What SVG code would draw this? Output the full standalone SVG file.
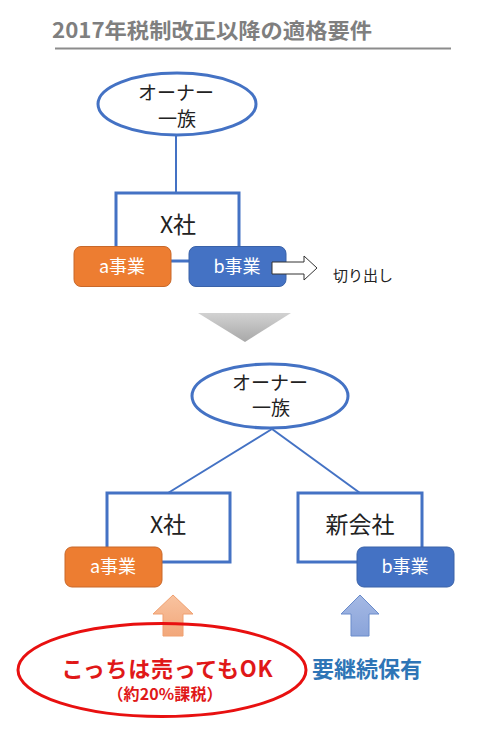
<svg xmlns="http://www.w3.org/2000/svg" width="482" height="731" viewBox="0 0 482 731">
<defs>
<linearGradient id="gtri" x1="0" y1="0" x2="0" y2="1"><stop offset="0" stop-color="#D2D2D2"/><stop offset="1" stop-color="#A8A8A8"/></linearGradient>
<linearGradient id="gor" x1="0" y1="0" x2="0" y2="1"><stop offset="0" stop-color="#F8C3A0"/><stop offset="1" stop-color="#F2A77A"/></linearGradient>
<linearGradient id="gbl" x1="0" y1="0" x2="0" y2="1"><stop offset="0" stop-color="#A5B9E4"/><stop offset="1" stop-color="#8AA4DA"/></linearGradient>
</defs>
<style>
.jp{font-family:"Noto Sans CJK JP","Noto Sans",sans-serif;}
.own{fill:#fff;stroke:#4472C4;stroke-width:3;}
.box{fill:#fff;stroke:#4472C4;stroke-width:3;}
.conn{stroke:#4472C4;stroke-width:2;fill:none;}
.t{font-family:"Noto Sans CJK JP","Noto Sans",sans-serif;fill:#222;text-anchor:middle;}
.bz{font-family:"Noto Sans CJK JP","Noto Sans",sans-serif;fill:#fff;text-anchor:middle;font-size:18px;}
.a{fill:#ED7D31;stroke:#C8682A;stroke-width:1;}
.b{fill:#4472C4;stroke:#3A62A8;stroke-width:1;}
</style>
<rect width="482" height="731" fill="#fff"/>
<g id="title">
<text x="52" y="38" class="jp" font-size="21" font-weight="bold" fill="#7F7F7F" textLength="320" lengthAdjust="spacingAndGlyphs">2017年税制改正以降の適格要件</text>
<line x1="55" y1="48.500" x2="451" y2="48.500" stroke="#8C8C8C" stroke-width="2"/>
</g>
<g id="connectors">
<line class="conn" x1="176" y1="135" x2="176" y2="193"/>
<line class="conn" x1="272" y1="429" x2="168" y2="493"/>
<line class="conn" x1="272" y1="429" x2="360" y2="493"/>
</g>
<g id="owner1">
<ellipse class="own" cx="177" cy="104" rx="79" ry="31"/>
<text class="t" x="176" y="100" font-size="19" textLength="76">オーナー</text>
<text class="t" x="177" y="126" font-size="19">一族</text>
</g>
<g id="xsha1">
<rect class="box" x="116" y="193" width="123" height="68"/>
<text class="t" x="178" y="233" font-size="23">X社</text>
</g>
<g id="a1">
<rect class="a" x="74" y="246.500" width="97" height="40" rx="7"/>
<text class="bz" x="122" y="273">a事業</text>
</g>
<g id="b1">
<rect class="b" x="189" y="246.500" width="97" height="40" rx="7"/>
<text class="bz" x="237" y="273">b事業</text>
</g>
<g id="cutout">
<path d="M272,262 H304 V256 L317,268 L304,280 V274 H272 Z" fill="#fff" stroke="#333" stroke-width="1"/>
<text class="t" x="363" y="281" font-size="15">切り出し</text>
</g>
<g id="down-triangle">
<path d="M198,313 H291 L245,342 Z" fill="url(#gtri)"/>
</g>
<g id="owner2">
<ellipse class="own" cx="270" cy="396" rx="78" ry="32"/>
<text class="t" x="270" y="390" font-size="19" textLength="76">オーナー</text>
<text class="t" x="271" y="415" font-size="19">一族</text>
</g>
<g id="xsha2">
<rect class="box" x="107" y="493" width="123" height="69"/>
<text class="t" x="168" y="533" font-size="23">X社</text>
</g>
<g id="shinkaisha">
<rect class="box" x="298" y="493" width="124" height="69"/>
<text class="t" x="360" y="533" font-size="23">新会社</text>
</g>
<g id="a2">
<rect class="a" x="65" y="547" width="97" height="40" rx="7"/>
<text class="bz" x="113" y="573">a事業</text>
</g>
<g id="b2">
<rect class="b" x="357" y="547" width="97" height="40" rx="7"/>
<text class="bz" x="405" y="573">b事業</text>
</g>
<g id="arrow-orange">
<path d="M173,595 L193,614 H183 V636 H163 V614 H153 Z" fill="url(#gor)" stroke="#F0A070" stroke-width="1"/>
</g>
<g id="arrow-blue">
<path d="M360,595 L379,614 H369 V636 H351 V614 H341 Z" fill="url(#gbl)" stroke="#6A8CCB" stroke-width="1"/>
</g>
<g id="ok-note">
<ellipse cx="162" cy="670" rx="144" ry="46.500" fill="none" stroke="#E81010" stroke-width="3"/>
<text x="167" y="677" class="jp" font-size="22" font-weight="bold" fill="#E01818" text-anchor="middle" textLength="211">こっちは売ってもOK</text>
<text x="165" y="700" class="jp" font-size="16" font-weight="bold" fill="#E01818" text-anchor="middle" textLength="115">（約20%課税）</text>
</g>
<g id="keep-note">
<text x="312" y="677" class="jp" font-size="22" font-weight="bold" fill="#2E75B6">要継続保有</text>
</g>
</svg>
